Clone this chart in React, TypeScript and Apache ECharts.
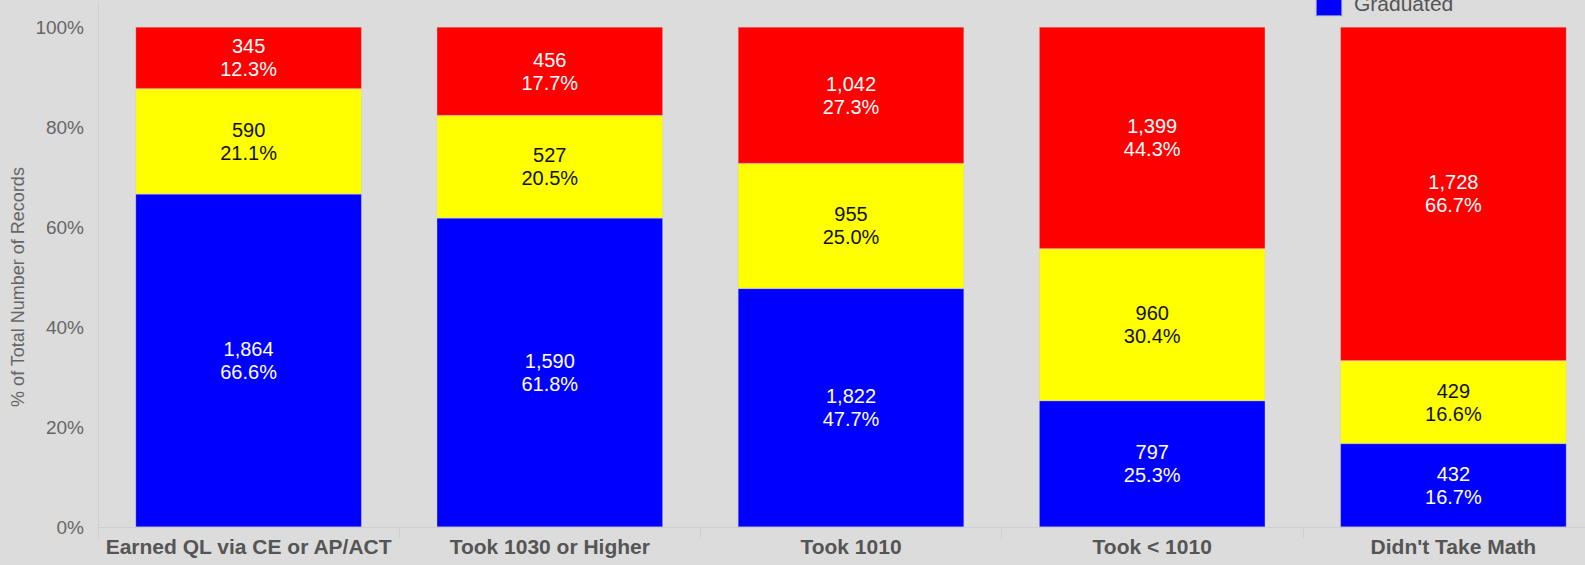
import React, { useEffect, useRef } from "react";
import * as echarts from "echarts";

const categories = [
  "Earned QL via CE or AP/ACT",
  "Took 1030 or Higher",
  "Took 1010",
  "Took < 1010",
  "Didn't Take Math",
];
const graduated = [1864, 1590, 1822, 797, 432];
const enrolled = [590, 527, 955, 960, 429];
const notEnrolled = [345, 456, 1042, 1399, 1728];
const yTicks = [0, 20, 40, 60, 80, 100];
const yTitle = "% of Total Number of Records";

const FONT = "'Liberation Sans', Arial, sans-serif";

export default function App() {
  const ref = useRef<HTMLDivElement>(null);
  useEffect(() => {
    if (!ref.current) return;
    const chart = echarts.init(ref.current, undefined, { renderer: "svg" });
    const totals = categories.map((_, i) => graduated[i] + enrolled[i] + notEnrolled[i]);
    const pct = (arr: number[]) => arr.map((v, i) => (v / totals[i]) * 100);
    const mkLabel = (arr: number[], color: string) => ({
      show: true,
      position: "inside",
      color,
      fontFamily: FONT,
      fontSize: 20,
      lineHeight: 23,
      formatter: (p: any) =>
        arr[p.dataIndex].toLocaleString("en-US") +
        "\n" +
        ((arr[p.dataIndex] / totals[p.dataIndex]) * 100).toFixed(1) +
        "%",
    });
    const series = [
      { name: "Graduated", data: pct(graduated), color: "#0000ff", label: mkLabel(graduated, "#ffffff") },
      { name: "Enrolled", data: pct(enrolled), color: "#ffff00", label: mkLabel(enrolled, "#111111") },
      { name: "Not Enrolled", data: pct(notEnrolled), color: "#ff0000", label: mkLabel(notEnrolled, "#ffffff") },
    ].map((s) => ({
      type: "bar",
      name: s.name,
      stack: "total",
      data: s.data,
      barWidth: 226,
      itemStyle: { color: s.color, borderColor: "rgba(200,200,200,0.6)", borderWidth: 0.5 },
      label: s.label,
      emphasis: { disabled: true },
    }));
    chart.setOption({
      animation: false,
      backgroundColor: "#dcdcdc",
      textStyle: { fontFamily: FONT },
      legend: {
        data: ["Graduated"],
        left: 1310,
        top: -16,
        itemWidth: 26,
        itemHeight: 26,
        icon: "rect",
        itemGap: 10,
        textStyle: { fontSize: 21, color: "#555555", fontFamily: FONT, padding: [0, 0, 0, 7] },
        selectedMode: false,
      },
      graphic: [
        {
          type: "text",
          x: 18,
          y: 287,
          rotation: Math.PI / 2,
          style: {
            text: yTitle,
            fill: "#666666",
            fontSize: 18,
            fontFamily: FONT,
            align: "center",
            verticalAlign: "middle",
          },
        },
      ],
      grid: { left: 98, right: 0, top: 3, bottom: 38, containLabel: false },
      xAxis: {
        type: "category",
        data: categories,
        axisLine: { show: true, lineStyle: { color: "#cfcfcf" } },
        axisTick: { show: true, length: 12, lineStyle: { color: "#cfcfcf" } },
        axisLabel: {
          color: "#555555",
          fontSize: 21,
          fontWeight: "bold",
          fontFamily: FONT,
          margin: 9,
          interval: 0,
        },
      },
      yAxis: {
        type: "value",
        min: 0,
        max: 104.8,
        interval: 20,
        axisLine: { show: true, lineStyle: { color: "#cfcfcf" } },
        axisTick: { show: false },
        splitLine: { show: false },
        axisLabel: {
          color: "#666666",
          fontSize: 19,
          fontFamily: FONT,
          margin: 14,
          showMaxLabel: false,
          formatter: (v: number) => (yTicks.includes(v) ? v + "%" : ""),
        },
      },
      series,
    });
    return () => chart.dispose();
  }, []);
  return (
    <div
      style={{
        position: "fixed",
        left: 0,
        top: 0,
        width: 1585,
        height: 565,
        overflow: "hidden",
        background: "#dcdcdc",
      }}
    >
      <div ref={ref} style={{ width: 1604, height: 565 }} />
    </div>
  );
}
